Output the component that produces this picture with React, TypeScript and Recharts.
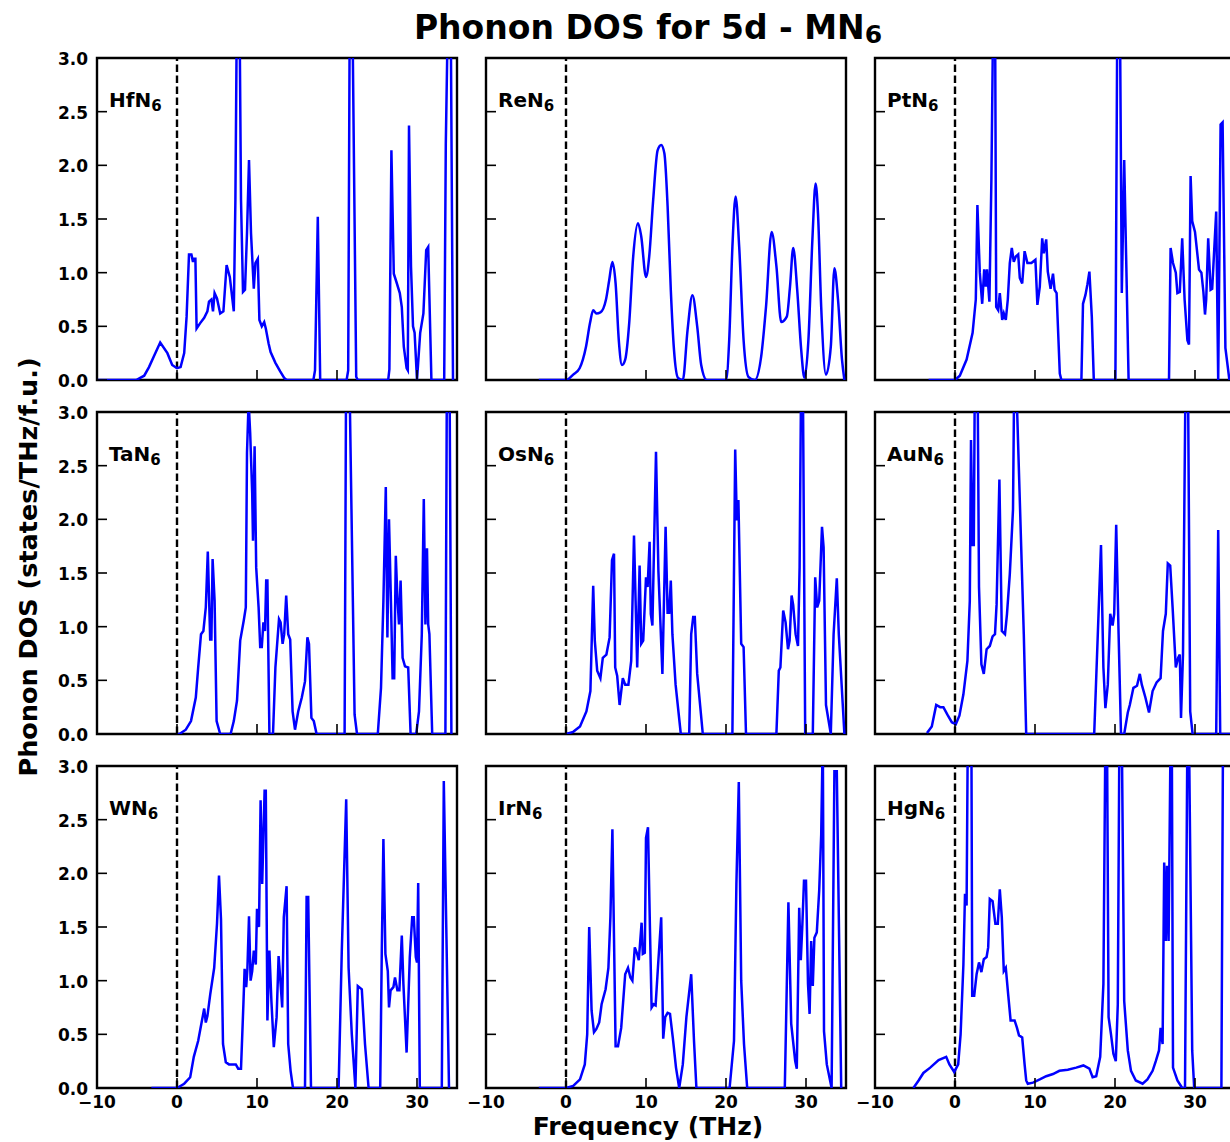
import React from 'react';
import { LineChart, Line, XAxis, YAxis, ReferenceLine, ReferenceArea } from 'recharts';

type Pt = [number, number];

// Phonon density of states (frequency in THz, DOS in states/THz/f.u.)
const hfN6: Pt[] = [
  [-10, 0], [-5.1, 0], [-4.1, 0.04], [-3.5, 0.12], [-2.9, 0.22], [-2.1, 0.35], [-1.2, 0.25], [-0.6, 0.14],
  [0, 0.11], [0.45, 0.12], [0.9, 0.25], [1.2, 0.59], [1.5, 1.17], [1.8, 1.17], [2.0, 1.1], [2.1, 1.13],
  [2.3, 1.13], [2.45, 0.48], [2.9, 0.53], [3.4, 0.58], [3.8, 0.64], [4.0, 0.73], [4.3, 0.75], [4.5, 0.64],
  [4.7, 0.81], [5.0, 0.76], [5.4, 0.62], [5.8, 0.64], [6.2, 1.07], [6.6, 0.96], [7.1, 0.64], [7.3, 1.68],
  [7.5, 3.6], [7.8, 3.6], [8.0, 1.68], [8.25, 0.82], [8.5, 0.84], [8.75, 1.37], [9.0, 2.05], [9.25, 1.37],
  [9.6, 0.85], [9.8, 1.09], [10.1, 1.13], [10.3, 0.56], [10.6, 0.5], [10.9, 0.54], [11.1, 0.48], [11.45, 0.34],
  [11.7, 0.26], [12.3, 0.16], [12.9, 0.08], [13.4, 0.02], [13.7, 0], [17.05, 0], [17.25, 0.09], [17.6, 1.52],
  [17.9, 0], [21.2, 0], [21.4, 0.09], [21.6, 3.6], [21.9, 3.6], [22.4, 0.03], [22.6, 0], [26.4, 0],
  [26.55, 0.1], [26.8, 2.14], [27.1, 0.99], [27.4, 0.92], [27.85, 0.81], [28.1, 0.68], [28.35, 0.31], [28.7, 0.11],
  [28.85, 0.09], [29.0, 2.37], [29.25, 1.06], [29.5, 0.5], [29.7, 0.44], [30.0, 0], [30.4, 0.44], [30.8, 0.62],
  [31.15, 1.21], [31.4, 1.24], [31.8, 0], [33.4, 0], [33.6, 2.2], [33.9, 3.6], [34.2, 3.6], [34.5, 0],
];

const reN6: Pt[] = [
  [-3.4, 0], [0, 0], [0.9, 0.05], [1.7, 0.11], [2.5, 0.31], [3.0, 0.53], [3.4, 0.65], [3.8, 0.62],
  [4.3, 0.63], [5.0, 0.75], [5.4, 0.93], [5.8, 1.1], [6.2, 0.9], [6.6, 0.37], [7.0, 0.14], [7.4, 0.19],
  [7.9, 0.53], [8.4, 1.15], [9.0, 1.46], [9.4, 1.34], [10.0, 0.96], [10.4, 1.15], [10.9, 1.68], [11.45, 2.14],
  [11.9, 2.19], [12.3, 2.11], [12.7, 1.62], [13.1, 0.84], [13.5, 0.28], [14.0, 0.02], [14.6, 0], [15.2, 0.47],
  [15.8, 0.79], [16.4, 0.5], [16.9, 0.14], [17.6, 0], [20.0, 0], [20.4, 0.37], [20.8, 1.24], [21.2, 1.71],
  [21.65, 1.24], [22.2, 0.37], [22.8, 0.03], [23.6, 0], [24.4, 0.22], [25.0, 0.68], [25.7, 1.38], [26.3, 1.06],
  [26.9, 0.54], [27.6, 0.59], [28.0, 0.87], [28.4, 1.23], [28.9, 0.84], [29.4, 0.28], [29.8, 0.02], [30.3, 0.37],
  [30.8, 1.31], [31.2, 1.83], [31.5, 1.55], [31.9, 0.68], [32.5, 0.05], [33.1, 0.31], [33.55, 1.04], [34.0, 0.75],
  [34.5, 0.19], [34.8, 0],
];

const ptN6: Pt[] = [
  [-3.3, 0], [0, 0], [0.6, 0.04], [1.45, 0.19], [2.2, 0.44], [2.6, 0.75], [2.8, 1.63], [3.1, 1.0],
  [3.4, 0.71], [3.65, 1.03], [3.85, 0.87], [4.0, 1.03], [4.3, 0.73], [4.55, 1.87], [4.8, 3.6], [5.0, 3.6],
  [5.15, 0.68], [5.4, 0.65], [5.6, 0.81], [5.9, 0.56], [6.1, 0.62], [6.35, 0.56], [6.6, 0.75], [6.85, 1.09],
  [7.1, 1.23], [7.35, 1.1], [7.6, 1.15], [7.9, 1.17], [8.1, 0.95], [8.4, 0.9], [8.7, 1.2], [9.05, 1.09],
  [9.55, 1.09], [10.05, 1.12], [10.3, 0.7], [10.6, 0.87], [10.9, 1.32], [11.1, 1.18], [11.4, 1.31], [11.6, 1.01],
  [11.95, 0.85], [12.25, 0.99], [12.45, 0.84], [12.7, 0.81], [13.1, 0.06], [13.3, 0], [15.8, 0], [16.0, 0.71],
  [16.3, 0.79], [16.55, 0.89], [16.8, 1.01], [17.1, 0.59], [17.35, 0], [20.05, 0], [20.3, 3.6], [20.6, 3.6],
  [20.85, 0.81], [21.15, 2.05], [21.7, 0], [26.75, 0], [26.95, 1.23], [27.25, 1.09], [27.6, 1.0], [27.8, 0.81],
  [28.1, 0.82], [28.4, 1.32], [28.7, 0.75], [29.05, 0.37], [29.25, 0.33], [29.45, 1.9], [29.65, 1.48], [30.0, 1.38],
  [30.5, 1.03], [30.8, 1.0], [31.05, 0.82], [31.25, 0.61], [31.4, 0.75], [31.65, 1.32], [31.95, 0.84], [32.15, 0.85],
  [32.65, 1.57], [32.9, 0], [33.2, 2.38], [33.45, 2.4], [33.8, 0.3], [34.3, 0],
];

const taN6: Pt[] = [
  [0, 0], [0.3, 0], [1.1, 0.04], [1.75, 0.12], [2.35, 0.34], [2.65, 0.62], [3.0, 0.93], [3.3, 0.96],
  [3.6, 1.18], [3.85, 1.7], [4.15, 0.88], [4.3, 0.88], [4.45, 1.63], [4.7, 1.24], [4.95, 0.12], [5.4, 0],
  [6.7, 0], [7.1, 0.12], [7.5, 0.31], [7.9, 0.87], [8.35, 1.06], [8.6, 1.18], [8.75, 2.62], [8.95, 3.1],
  [9.15, 2.8], [9.4, 2.24], [9.5, 1.8], [9.7, 2.68], [9.9, 1.55], [10.2, 1.18], [10.4, 0.81], [10.6, 0.81],
  [10.8, 1.04], [11.0, 0.96], [11.15, 1.43], [11.3, 1.43], [11.55, 0], [12.0, 0], [12.3, 0.62], [12.75, 1.07],
  [12.95, 1.04], [13.2, 0.84], [13.4, 0.93], [13.65, 1.29], [13.9, 0.93], [14.15, 0.88], [14.45, 0.21], [14.75, 0.04],
  [15.15, 0.21], [15.6, 0.34], [16.0, 0.49], [16.3, 0.9], [16.5, 0.84], [16.8, 0.15], [17.1, 0.12], [17.45, 0],
  [20.95, 0], [21.15, 3.6], [21.5, 3.6], [22.2, 0.18], [22.5, 0], [25.1, 0], [25.5, 0.43], [25.8, 1.24],
  [26.1, 2.3], [26.3, 0.9], [26.5, 2.0], [26.75, 1.21], [26.95, 0.52], [27.15, 0.52], [27.35, 1.66], [27.55, 1.27],
  [27.75, 1.02], [27.95, 1.43], [28.2, 0.71], [28.5, 0.63], [28.9, 0.62], [29.2, 0], [29.9, 0], [30.25, 0.21],
  [30.6, 0.93], [30.85, 2.19], [31.05, 1.02], [31.25, 1.73], [31.4, 1.02], [31.55, 0.93], [31.9, 0], [33.55, 0],
  [33.75, 3.6], [34.05, 3.6], [34.3, 0],
];

const osN6: Pt[] = [
  [0, 0], [0.9, 0.02], [1.75, 0.07], [2.55, 0.21], [3.05, 0.4], [3.4, 1.38], [3.6, 0.87], [3.9, 0.59],
  [4.3, 0.52], [4.6, 0.71], [5.05, 0.74], [5.45, 0.9], [5.75, 1.62], [6.0, 1.68], [6.15, 0.62], [6.4, 0.54],
  [6.7, 0.27], [7.1, 0.52], [7.4, 0.46], [7.8, 0.46], [8.15, 0.68], [8.5, 1.85], [8.7, 1.24], [8.9, 0.62],
  [9.2, 1.57], [9.4, 0.84], [9.65, 0.87], [10.0, 1.46], [10.2, 1.37], [10.45, 1.79], [10.6, 1.12], [10.8, 1.01],
  [11.25, 2.63], [11.55, 1.52], [12.05, 0.56], [12.45, 1.93], [12.7, 1.13], [12.9, 1.13], [13.1, 1.43], [13.3, 0.93],
  [13.7, 0.46], [14.35, 0], [15.4, 0], [15.65, 0.93], [15.9, 1.09], [16.1, 1.09], [16.4, 0.56], [17.1, 0],
  [20.8, 0], [21.15, 2.65], [21.35, 1.99], [21.55, 2.18], [21.9, 0.84], [22.2, 0.81], [22.5, 0], [26.3, 0],
  [26.6, 0.59], [26.8, 0.62], [27.15, 1.15], [27.45, 1.04], [27.75, 0.79], [27.95, 0.87], [28.2, 1.29], [28.4, 1.2],
  [28.7, 0.93], [29.0, 0.82], [29.2, 1.55], [29.4, 3.4], [29.6, 3.4], [29.9, 0], [30.85, 0], [31.15, 1.46],
  [31.4, 1.18], [31.65, 1.24], [32.0, 1.93], [32.2, 1.74], [32.5, 0.27], [33.1, 0], [33.45, 0.93], [33.85, 1.45],
  [34.1, 0.93], [34.8, 0],
];

const auN6: Pt[] = [
  [-3.5, 0.01], [-2.9, 0.07], [-2.35, 0.27], [-1.85, 0.25], [-1.45, 0.25], [-0.95, 0.18], [-0.4, 0.11], [0.1, 0.09],
  [0.55, 0.17], [1.05, 0.37], [1.55, 0.68], [1.85, 1.24], [2.0, 2.74], [2.2, 1.76], [2.35, 1.76], [2.5, 3.6],
  [2.8, 3.6], [3.0, 1.37], [3.3, 0.65], [3.6, 0.56], [3.95, 0.79], [4.35, 0.82], [4.7, 0.91], [5.0, 0.93],
  [5.2, 1.21], [5.55, 2.37], [5.85, 0.96], [6.25, 0.93], [6.5, 1.12], [6.85, 1.49], [7.25, 2.09], [7.4, 3.3],
  [7.65, 3.3], [8.1, 2.18], [8.6, 0.93], [8.9, 0], [17.4, 0], [17.85, 0.93], [18.25, 1.76], [18.55, 0.62],
  [18.8, 0.24], [19.1, 0.46], [19.4, 1.12], [19.7, 1.01], [19.9, 1.12], [20.15, 1.95], [20.45, 0.93], [20.75, 0],
  [21.15, 0], [21.6, 0.2], [21.85, 0.27], [22.3, 0.43], [22.75, 0.45], [23.1, 0.56], [23.35, 0.46], [23.8, 0.34],
  [24.25, 0.2], [24.7, 0.4], [25.2, 0.48], [25.7, 0.52], [26.0, 0.96], [26.35, 1.12], [26.6, 1.59], [26.9, 1.57],
  [27.2, 1.18], [27.6, 0.62], [27.9, 0.71], [28.1, 0.74], [28.25, 0.15], [28.5, 0.74], [28.85, 3.6], [29.1, 3.6],
  [29.4, 0.21], [29.7, 0], [32.65, 0], [32.9, 1.9], [33.15, 0], [34.5, 0],
];

const wN6: Pt[] = [
  [-3.2, 0], [0, 0], [0.9, 0.04], [1.65, 0.1], [2.1, 0.29], [2.65, 0.44], [3.05, 0.6], [3.4, 0.74],
  [3.6, 0.61], [3.8, 0.67], [4.15, 0.87], [4.65, 1.12], [5.0, 1.53], [5.25, 1.98], [5.5, 1.57], [5.75, 0.41],
  [6.1, 0.24], [6.5, 0.22], [6.95, 0.22], [7.35, 0.22], [7.65, 0.18], [8.0, 0.18], [8.3, 0.78], [8.45, 1.11],
  [8.65, 0.94], [8.8, 1.11], [9.0, 1.6], [9.2, 1.0], [9.4, 1.09], [9.6, 1.28], [9.85, 1.15], [10.0, 1.67],
  [10.25, 1.5], [10.45, 2.68], [10.65, 1.9], [10.95, 2.77], [11.1, 2.77], [11.3, 0.63], [11.55, 1.28], [11.8, 0.81],
  [12.1, 0.38], [12.45, 0.66], [12.7, 1.23], [12.95, 0.97], [13.15, 0.75], [13.35, 1.59], [13.7, 1.88], [13.9, 0.41],
  [14.2, 0.16], [14.5, 0], [16.0, 0], [16.2, 1.78], [16.4, 1.78], [16.75, 0], [20.2, 0], [20.6, 1.28],
  [21.15, 2.69], [21.45, 1.12], [21.85, 0.5], [22.3, 0], [22.6, 0.95], [23.1, 0.92], [23.5, 0.41], [23.95, 0],
  [25.4, 0], [25.6, 1.28], [25.8, 2.32], [26.05, 1.25], [26.35, 1.09], [26.5, 0.75], [26.7, 0.91], [27.05, 0.94],
  [27.25, 1.03], [27.55, 0.91], [27.8, 0.91], [28.1, 1.42], [28.3, 0.97], [28.7, 0.33], [29.1, 1.22], [29.4, 1.59],
  [29.6, 1.59], [29.85, 1.22], [30.0, 1.17], [30.15, 1.91], [30.35, 0], [33.1, 0], [33.35, 2.86], [34.0, 0],
];

const irN6: Pt[] = [
  [-3.4, 0], [0, 0], [0.9, 0.02], [1.75, 0.08], [2.35, 0.22], [2.65, 0.5], [2.9, 1.5], [3.2, 0.72],
  [3.5, 0.52], [3.8, 0.55], [4.15, 0.61], [4.45, 0.78], [4.95, 0.92], [5.3, 1.12], [5.55, 1.59], [5.8, 2.41],
  [6.0, 1.4], [6.2, 0.39], [6.5, 0.39], [6.9, 0.56], [7.4, 1.06], [7.75, 1.12], [8.05, 1.03], [8.3, 1.0],
  [8.6, 1.31], [8.85, 1.26], [9.1, 1.19], [9.45, 1.54], [9.6, 1.25], [9.85, 1.26], [10.0, 2.33], [10.25, 2.43],
  [10.5, 1.46], [10.7, 0.75], [10.95, 0.78], [11.2, 0.77], [11.55, 1.19], [11.9, 1.59], [12.15, 0.46], [12.4, 0.66],
  [12.7, 0.7], [13.0, 0.69], [13.35, 0.47], [13.75, 0.19], [14.15, 0], [14.6, 0.22], [15.05, 0.66], [15.65, 1.06],
  [16.0, 0.44], [16.3, 0], [20.45, 0], [21.0, 0.44], [21.3, 1.9], [21.6, 2.85], [21.9, 1.0], [22.25, 0.41],
  [22.65, 0], [27.35, 0], [27.8, 1.73], [28.15, 0.6], [28.65, 0.25], [28.85, 0.18], [29.15, 1.68], [29.35, 1.19],
  [29.55, 1.53], [29.75, 1.93], [30.0, 1.93], [30.25, 0.97], [30.45, 0.69], [30.65, 1.37], [30.85, 0.95], [31.05, 1.4],
  [31.35, 1.45], [31.65, 1.84], [31.9, 2.36], [32.1, 3.3], [32.25, 0.53], [32.6, 0.22], [33.2, 0], [33.55, 2.95],
  [33.85, 2.95], [34.4, 0],
];

const hgN6: Pt[] = [
  [-5.2, 0], [-4.55, 0.07], [-3.95, 0.14], [-3.1, 0.19], [-2.05, 0.26], [-1.1, 0.29], [-0.7, 0.22], [-0.1, 0.15],
  [0.4, 0.22], [0.7, 0.5], [1.05, 1.15], [1.25, 1.81], [1.45, 1.7], [1.6, 3.3], [2.05, 3.3], [2.15, 0.86],
  [2.4, 0.86], [2.7, 1.06], [3.0, 1.17], [3.3, 1.08], [3.6, 1.2], [3.95, 1.22], [4.15, 1.31], [4.35, 1.76],
  [4.7, 1.74], [5.05, 1.53], [5.35, 1.53], [5.6, 1.85], [5.85, 1.59], [6.1, 1.09], [6.35, 1.12], [6.65, 0.87],
  [6.95, 0.63], [7.45, 0.63], [7.75, 0.56], [8.0, 0.49], [8.4, 0.47], [8.7, 0.22], [8.9, 0.07], [9.1, 0.04],
  [9.75, 0.05], [10.6, 0.08], [11.4, 0.11], [12.25, 0.13], [13.05, 0.16], [14.1, 0.17], [15.15, 0.19], [16.05, 0.21],
  [16.8, 0.18], [17.2, 0.1], [17.65, 0.11], [18.15, 0.29], [18.55, 0.97], [18.8, 3.3], [19.0, 3.3], [19.2, 0.66],
  [19.5, 0.5], [19.8, 0.32], [20.1, 0.25], [20.35, 0.78], [20.55, 3.3], [20.85, 3.3], [21.15, 0.81], [21.6, 0.35],
  [22.0, 0.16], [22.6, 0.07], [23.45, 0.04], [24.05, 0.08], [24.7, 0.16], [25.1, 0.25], [25.5, 0.35], [25.7, 0.56],
  [25.95, 0.41], [26.15, 2.1], [26.35, 1.37], [26.5, 2.07], [26.7, 1.37], [26.95, 3.3], [27.1, 3.3], [27.25, 0.19],
  [27.8, 0.07], [28.4, 0], [28.75, 0], [29.05, 3.3], [29.25, 3.3], [29.65, 0.35], [29.9, 0], [33.3, 0],
  [33.5, 3.3], [34.0, 3.3], [34.5, 3.3],
];

const compounds = ['HfN', 'ReN', 'PtN', 'TaN', 'OsN', 'AuN', 'WN', 'IrN', 'HgN'];
const series: Pt[][] = [hfN6, reN6, ptN6, taN6, osN6, auN6, wN6, irN6, hgN6];
const smoothCurve = [false, true, false, false, false, false, false, false, false];

const xTicks = [-10, 0, 10, 20, 30];
const yTicks = [0, 0.5, 1, 1.5, 2, 2.5, 3];

const FONT = "'DejaVu Sans', 'Liberation Sans', sans-serif";
const PLOT_W = 360;
const PLOT_H = 322;
const COL_X = [97, 486, 875];
const ROW_Y = [58, 412, 766];
const PAD_L = 52;
const PAD_R = 6;
const PAD_T = 14;
const PAD_B = 34;
const TICK_LEN = 10;

const fmtX = (v: number) => (v < 0 ? `\u2212${Math.abs(v)}` : String(v));

function YTick(props: any) {
  const { x, y, payload, show } = props;
  return (
    <g>
      <line x1={x} y1={y} x2={x + TICK_LEN} y2={y} stroke="#000" strokeWidth={1.6} />
      {show && (
        <text x={x - 9} y={y + 7} textAnchor="end" fontFamily={FONT} fontWeight="bold" fontSize={17} fill="#000">
          {Number(payload.value).toFixed(1)}
        </text>
      )}
    </g>
  );
}

function XTick(props: any) {
  const { x, y, payload, show } = props;
  return (
    <g>
      <line x1={x} y1={y} x2={x} y2={y - TICK_LEN} stroke="#000" strokeWidth={1.6} />
      {show && (
        <text x={x} y={y + 20} textAnchor="middle" fontFamily={FONT} fontWeight="bold" fontSize={17} fill="#000">
          {fmtX(payload.value)}
        </text>
      )}
    </g>
  );
}

function Panel({ index }: { index: number }) {
  const row = Math.floor(index / 3);
  const col = index % 3;
  const data = series[index].map(([x, y]) => ({ x, y }));
  return (
    <div style={{ position: 'absolute', left: COL_X[col] - PAD_L, top: ROW_Y[row] - PAD_T }}>
      <LineChart
        width={PLOT_W + PAD_L + PAD_R}
        height={PLOT_H + PAD_T + PAD_B}
        data={data}
        margin={{ top: PAD_T, right: PAD_R, left: 0, bottom: 0 }}
      >
        <XAxis
          type="number"
          dataKey="x"
          domain={[-10, 35]}
          ticks={xTicks}
          interval={0}
          allowDataOverflow
          height={PAD_B}
          axisLine={false}
          tickLine={false}
          tickSize={0}
          tickMargin={0}
          tick={(p: any) => <XTick {...p} show={row === 2} />}
        />
        <YAxis
          type="number"
          domain={[0, 3]}
          ticks={yTicks}
          interval={0}
          allowDataOverflow
          width={PAD_L}
          axisLine={false}
          tickLine={false}
          tickSize={0}
          tickMargin={0}
          tick={(p: any) => <YTick {...p} show={col === 0} />}
        />
        <ReferenceArea
          x1={-10}
          x2={35}
          y1={0}
          y2={3}
          fill="none"
          fillOpacity={0}
          stroke="#000"
          strokeWidth={2.4}
          ifOverflow="visible"
        />
        <ReferenceLine x={0} stroke="#000" strokeWidth={2.4} strokeDasharray="7.5 3.5" />
        <Line
          type={smoothCurve[index] ? 'monotone' : 'linear'}
          dataKey="y"
          stroke="#0000ff"
          strokeWidth={2.5}
          dot={false}
          activeDot={false}
          isAnimationActive={false}
        />
      </LineChart>
    </div>
  );
}

export default function App() {
  return (
    <div
      style={{
        position: 'absolute',
        left: 0,
        top: 0,
        width: 1230,
        height: 1142,
        overflow: 'hidden',
        background: '#fff',
        fontFamily: FONT,
      }}
    >
      {series.map((_, i) => (
        <Panel key={compounds[i]} index={i} />
      ))}
      <svg
        width={1230}
        height={1142}
        style={{ position: 'absolute', left: 0, top: 0, pointerEvents: 'none' }}
      >
        <text x={648} y={39} textAnchor="middle" fontFamily={FONT} fontWeight="bold" fontSize={33} fill="#000">
          Phonon DOS for 5d - MN<tspan fontSize={25} dy={4}>6</tspan>
        </text>
        {compounds.map((name, i) => (
          <text
            key={name}
            x={COL_X[i % 3] + 12}
            y={ROW_Y[Math.floor(i / 3)] + 49}
            fontFamily={FONT}
            fontWeight="bold"
            fontSize={20}
            fill="#000"
          >
            {name}
            <tspan fontSize={15} dy={4}>6</tspan>
          </text>
        ))}
        <text
          transform="translate(37,567) rotate(-90)"
          textAnchor="middle"
          fontFamily={FONT}
          fontWeight="bold"
          fontSize={25.5}
          fill="#000"
        >
          Phonon DOS (states/THz/f.u.)
        </text>
        <text x={648} y={1135} textAnchor="middle" fontFamily={FONT} fontWeight="bold" fontSize={25} fill="#000">
          Frequency (THz)
        </text>
      </svg>
    </div>
  );
}
